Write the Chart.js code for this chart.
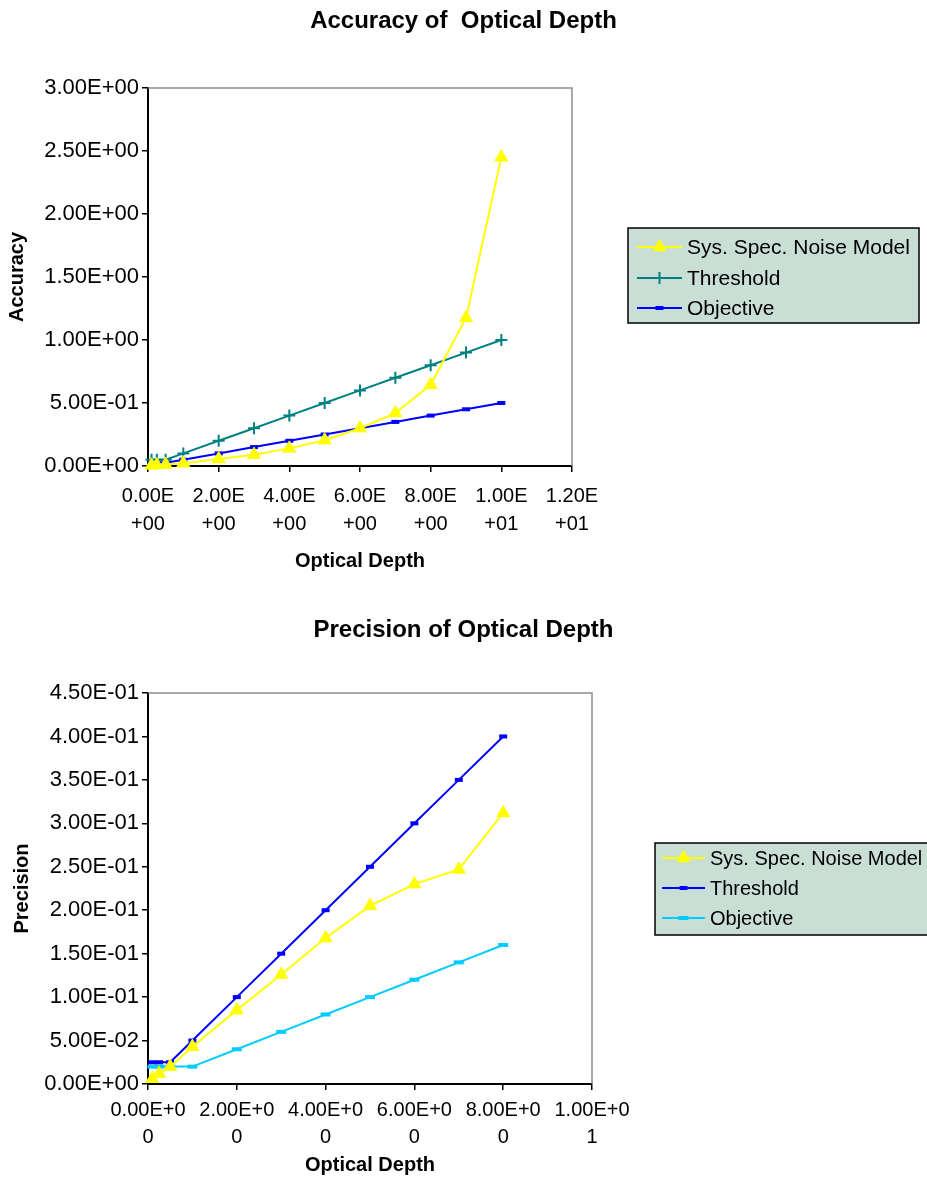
<!DOCTYPE html>
<html><head><meta charset="utf-8">
<script src="https://cdn.jsdelivr.net/npm/chart.js@4/dist/chart.umd.min.js"></script>
<style>
html,body{margin:0;padding:0;background:#fff;}
body{width:927px;height:1184px;position:relative;overflow:hidden;font-family:"Liberation Sans",Arial,sans-serif;}
.wrap{position:absolute;left:0;width:927px;height:592px;}
.title{position:absolute;left:0;width:927px;text-align:center;font-weight:bold;font-size:24px;line-height:28px;color:#000;white-space:pre;}
</style></head><body>
<div class="wrap" style="top:0"><canvas id="c1"></canvas></div>
<div class="wrap" style="top:592px"><canvas id="c2"></canvas></div>
<div class="title" style="top:6px">Accuracy of  Optical Depth</div>
<div class="title" style="top:615px">Precision of Optical Depth</div>
<script>
// ---- Accuracy chart data ----
const accDepth = [0.1, 0.25, 0.5, 1, 2, 3, 4, 5, 6, 7, 8, 9, 10];
const accSys = [0.005, 0.008, 0.012, 0.022, 0.055, 0.09, 0.14, 0.205, 0.30, 0.42, 0.645, 1.175, 2.45];
const accThreshold = [0.05, 0.05, 0.05, 0.1, 0.2, 0.3, 0.4, 0.5, 0.6, 0.7, 0.8, 0.9, 1.0];
const accObjective = [0.025, 0.025, 0.025, 0.05, 0.1, 0.15, 0.2, 0.25, 0.3, 0.35, 0.4, 0.45, 0.5];
const accXLabels = [["0.00E","+00"],["2.00E","+00"],["4.00E","+00"],["6.00E","+00"],["8.00E","+00"],["1.00E","+01"],["1.20E","+01"]];
const accYLabels = ["0.00E+00","5.00E-01","1.00E+00","1.50E+00","2.00E+00","2.50E+00","3.00E+00"];

// ---- Precision chart data ----
const preDepth = [0.1, 0.25, 0.5, 1, 2, 3, 4, 5, 6, 7, 8];
const preSys = [0.006, 0.012, 0.02, 0.043, 0.085, 0.126, 0.168, 0.205, 0.23, 0.247, 0.312];
const preThreshold = [0.025, 0.025, 0.025, 0.05, 0.1, 0.15, 0.2, 0.25, 0.3, 0.35, 0.4];
const preObjective = [0.02, 0.02, 0.02, 0.02, 0.04, 0.06, 0.08, 0.1, 0.12, 0.14, 0.16];
const preXLabels = [["0.00E+0","0"],["2.00E+0","0"],["4.00E+0","0"],["6.00E+0","0"],["8.00E+0","0"],["1.00E+0","1"]];
const preYLabels = ["0.00E+00","5.00E-02","1.00E-01","1.50E-01","2.00E-01","2.50E-01","3.00E-01","3.50E-01","4.00E-01","4.50E-01"];

const FONT = '"Liberation Sans", Arial, sans-serif';
const pts = (xs, ys) => xs.map((x, i) => ({x: x, y: ys[i]}));

const framePlugin = {
  id: 'frame',
  beforeDatasetsDraw(chart) {
    const {left, right, top, bottom} = chart.chartArea;
    const ctx = chart.ctx;
    ctx.save();
    ctx.strokeStyle = '#8c8c8c';
    ctx.lineWidth = 1.5;
    ctx.beginPath();
    ctx.moveTo(left, top); ctx.lineTo(right, top); ctx.lineTo(right, bottom);
    ctx.stroke();
    ctx.restore();
  }
};

const boxLegend = {
  id: 'boxLegend',
  afterDraw(chart, args, o) {
    const ctx = chart.ctx;
    ctx.save();
    ctx.fillStyle = '#c9dfd6';
    ctx.fillRect(o.x, o.y, o.w, o.h);
    ctx.strokeStyle = '#000';
    ctx.lineWidth = 1.5;
    ctx.strokeRect(o.x, o.y, o.w, o.h);
    chart.data.datasets.forEach((ds, i) => {
      const ry = o.rows[i];
      ctx.strokeStyle = ds.borderColor;
      ctx.lineWidth = ds.borderWidth;
      ctx.beginPath(); ctx.moveTo(o.x1, ry); ctx.lineTo(o.x2, ry); ctx.stroke();
      ctx.fillStyle = ds.pointBackgroundColor || ds.backgroundColor;
      ctx.strokeStyle = ds.pointBorderColor || ds.borderColor;
      ctx.lineWidth = ds.pointBorderWidth;
      Chart.helpers.drawPoint(ctx, {pointStyle: ds.pointStyle, radius: ds.legendRadius || ds.pointRadius, borderWidth: ds.pointBorderWidth, rotation: 0}, (o.x1 + o.x2) / 2, ry);
      ctx.fillStyle = '#000';
      ctx.font = o.font;
      ctx.textBaseline = 'middle';
      ctx.textAlign = 'left';
      ctx.fillText(ds.label, o.tx, ry + 1);
    });
    ctx.restore();
  }
};

function axisX(min, max, step, labels, padTick, lh, titlePad, h) {
  return {
    type: 'linear', min: min, max: max,
    ticks: {stepSize: step, autoSkip: false, maxRotation: 0, minRotation: 0, color: '#000',
      padding: padTick, font: {family: FONT, size: 20, lineHeight: lh},
      callback: (v, i) => labels[i]},
    grid: {display: true, drawOnChartArea: false, drawTicks: true, tickLength: 6, color: '#000', lineWidth: 1.5},
    border: {display: true, color: '#000', width: 2},
    title: {display: true, text: 'Optical Depth', color: '#000', font: {family: FONT, size: 20, weight: 'bold', lineHeight: 1.2}, padding: {top: 0, bottom: titlePad}},
    afterFit: s => { s.height = h; }
  };
}
function axisY(max, step, labels, text, titlePad) {
  return {
    type: 'linear', min: 0, max: max,
    ticks: {stepSize: step, autoSkip: false, color: '#000', padding: 3,
      font: {family: FONT, size: 22}, callback: (v, i) => labels[i]},
    grid: {display: true, drawOnChartArea: false, drawTicks: true, tickLength: 6, color: '#000', lineWidth: 1.5},
    border: {display: true, color: '#000', width: 2},
    title: {display: true, text: text, color: '#000', font: {family: FONT, size: 20, weight: 'bold', lineHeight: 1.2}, padding: {top: titlePad, bottom: 0}},
    afterFit: s => { s.width = 148; }
  };
}

function ds(label, data, color, style, radius, bw, legendRadius) {
  return {label: label, data: data, borderColor: color, backgroundColor: color,
    pointBackgroundColor: color, pointBorderColor: color, borderWidth: 2,
    pointStyle: style, pointRadius: radius, pointHoverRadius: radius, pointBorderWidth: bw,
    legendRadius: legendRadius, tension: 0, clip: false, fill: false};
}

new Chart(document.getElementById('c1'), {
  type: 'line',
  data: {datasets: [
    ds('Sys. Spec. Noise Model', pts(accDepth, accSys), '#FFFF00', 'triangle', 7.5, 1, 7.5),
    ds('Threshold', pts(accDepth, accThreshold), '#008080', 'cross', 6, 2, 6),
    ds('Objective', pts(accDepth, accObjective), '#0000FF', 'line', 4, 4, 4)
  ]},
  options: {
    responsive: true, maintainAspectRatio: false, animation: false,
    layout: {padding: {left: 0, top: 88, right: 355, bottom: 0}},
    scales: {
      x: axisX(0, 12, 2, accXLabels, 10, 1.4, 19, 126),
      y: axisY(3, 0.5, accYLabels, 'Accuracy', 5)
    },
    plugins: {
      legend: {display: false}, tooltip: {enabled: false},
      boxLegend: {x: 628, y: 228, w: 291, h: 95, rows: [247, 278, 308], x1: 637, x2: 682, tx: 687, font: '21px ' + FONT}
    }
  },
  plugins: [framePlugin, boxLegend]
});

new Chart(document.getElementById('c2'), {
  type: 'line',
  data: {datasets: [
    ds('Sys. Spec. Noise Model', pts(preDepth, preSys), '#FFFF00', 'triangle', 7.5, 1, 7.5),
    ds('Threshold', pts(preDepth, preThreshold), '#0000FF', 'line', 4, 4, 4),
    ds('Objective', pts(preDepth, preObjective), '#00CCFF', 'line', 5, 4, 5)
  ]},
  options: {
    responsive: true, maintainAspectRatio: false, animation: false,
    layout: {padding: {left: 0, top: 101, right: 335, bottom: 0}},
    scales: {
      x: axisX(0, 10, 2, preXLabels, 6.5, 1.35, 7, 100),
      y: axisY(0.45, 0.05, preYLabels, 'Precision', 10)
    },
    plugins: {
      legend: {display: false}, tooltip: {enabled: false},
      boxLegend: {x: 655, y: 251, w: 280, h: 92, rows: [266, 296, 326], x1: 662, x2: 705, tx: 710, font: '20px ' + FONT}
    }
  },
  plugins: [framePlugin, boxLegend]
});
</script>
</body></html>
